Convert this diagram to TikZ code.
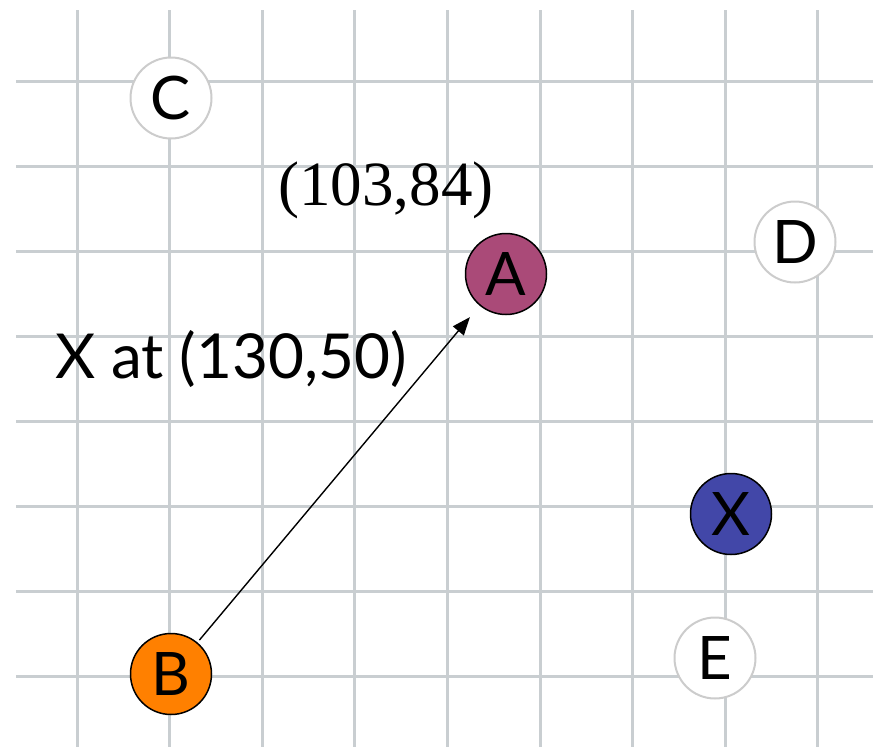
\documentclass[tikz,border=0pt]{standalone}
\usepackage{fontspec}
\setmainfont{Liberation Serif}
\setsansfont{Lato}
\usepackage{xcolor}
\usepackage{tikz}
\usetikzlibrary{arrows.meta}
\definecolor{gridGray}{HTML}{C9CED1}
\definecolor{ringGray}{HTML}{CCCCCC}
\definecolor{ptMagenta}{HTML}{AA4A78}
\definecolor{ptOrange}{HTML}{FF8000}
\definecolor{ptBlue}{HTML}{4247A8}

\begin{document}
\begin{tikzpicture}[
  x=1pt, y=-1pt,
  every node/.style={font=\sffamily\fontsize{60}{60}\selectfont},
  point/.style={
    circle, minimum size=81pt, inner sep=0pt,
    draw=black, line width=1.5pt,
  },
  other/.style={point, fill=white, draw=ringGray, line width=2pt},
  gridline/.style={gridGray, line width=3pt},
  arrow/.style={-{Triangle[length=18pt,width=14pt]}, black, line width=1.4pt},
]

\useasboundingbox (0,0) rectangle (873,747);

% === Grid ===
\foreach \k in {0,...,7}
  \draw[gridline] (16,81+85*\k) -- (873,81+85*\k);
\foreach \k in {0,...,8}
  \draw[gridline] (77+92.6*\k,10) -- (77+92.6*\k,747);

% === Points ===
\node[other] (ptC) at (171, 98) {C};
\node[other] (ptD) at (795, 242) {D};
\node[other] (ptE) at (715, 658) {E};
\node[point, fill=ptMagenta] (ptA) at (506, 274) {A};
\node[point, fill=ptOrange] (ptB) at (171, 674) {B};
\node[point, fill=ptBlue] (ptX) at (731, 514) {X};

% === Labels ===
\node[font=\rmfamily\fontsize{63}{63}\selectfont, anchor=base] (coordA) at (386, 205) {(103,84)};
\node[anchor=base west, inner sep=0pt, font=\sffamily\fontsize{62}{62}\selectfont] (coordX) at (55, 378) {X at (130,50)};

% === Vector ===
\draw[arrow, shorten <=3pt, shorten >=15pt] (ptB) -- (ptA);

\end{tikzpicture}
\end{document}
